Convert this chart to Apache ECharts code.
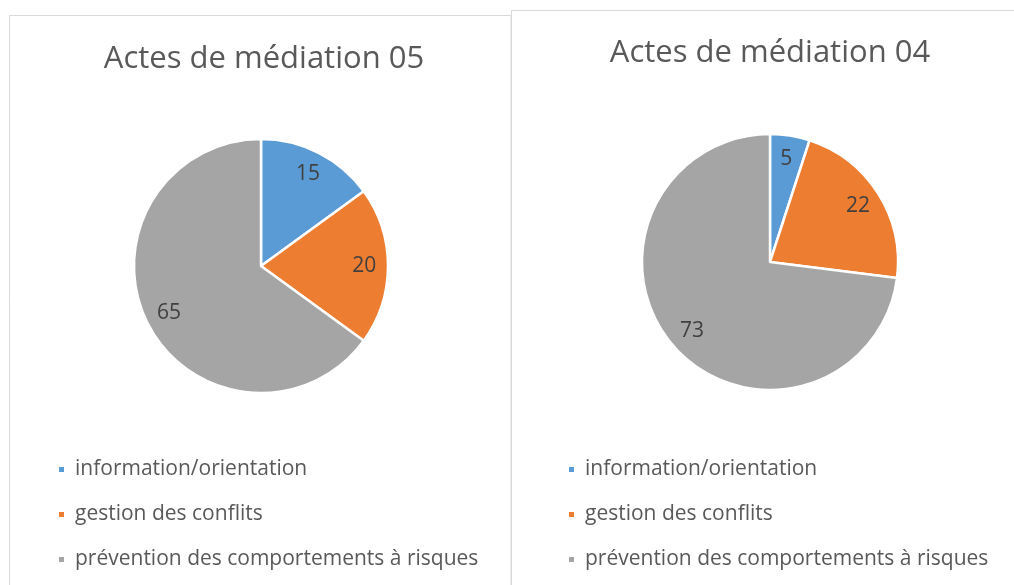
<!DOCTYPE html>
<html>
<head>
<meta charset="utf-8">
<script src="https://cdn.jsdelivr.net/npm/echarts@6/dist/echarts.min.js"></script>
<style>
  html, body { margin: 0; padding: 0; background: #fff; }
  #chart { width: 1014px; height: 585px; }
</style>
</head>
<body>
<div id="chart"></div>
<script>
// Categories shared by both pies
const categories = ['information/orientation', 'gestion des conflits', 'prévention des comportements à risques'];
// Values per year
const values05 = [15, 20, 65];
const values04 = [5, 22, 73];
const titles = ['Actes de médiation 05', 'Actes de médiation 04'];
const colors = ['#5B9BD5', '#ED7D31', '#A5A5A5'];

const FONT = '"Open Sans", "Noto Sans", sans-serif';

function toData(vals) {
  return categories.map((c, i) => ({ name: c, value: vals[i] }));
}

// One solid pie plus a transparent ring that carries the value labels
function pieSeries(vals, center, r) {
  return [
    {
      type: 'pie',
      center: center,
      radius: [0, r],
      startAngle: 90,
      clockwise: true,
      silent: true,
      label: { show: false },
      labelLine: { show: false },
      itemStyle: { borderColor: '#ffffff', borderWidth: 2.5 },
      data: toData(vals)
    },
    {
      type: 'pie',
      center: center,
      radius: [r * 0.58, r],
      startAngle: 90,
      clockwise: true,
      silent: true,
      itemStyle: { color: 'rgba(0,0,0,0)', borderWidth: 0 },
      label: {
        show: true,
        position: 'inside',
        formatter: '{c}',
        color: '#404040',
        fontFamily: FONT,
        fontSize: 21
      },
      labelLine: { show: false },
      data: toData(vals)
    }
  ];
}

function legend(left) {
  return {
    orient: 'vertical',
    left: left,
    top: 458,
    padding: 0,
    icon: 'rect',
    itemWidth: 7,
    itemHeight: 7,
    itemGap: 22,
    selectedMode: false,
    data: categories,
    textStyle: { color: '#595959', fontFamily: FONT, fontSize: 21, lineHeight: 23, padding: [0, 0, 0, 5] }
  };
}

const chart = echarts.init(document.getElementById('chart'), null, { renderer: 'canvas' });
chart.setOption({
  animation: false,
  color: colors,
  title: [
    { text: titles[0], left: 264, top: 44, textAlign: 'center', padding: 0,
      textStyle: { color: '#595959', fontFamily: FONT, fontSize: 31, fontWeight: 'normal' } },
    { text: titles[1], left: 770, top: 38, textAlign: 'center', padding: 0,
      textStyle: { color: '#595959', fontFamily: FONT, fontSize: 31, fontWeight: 'normal' } }
  ],
  legend: [legend(57), legend(567)],
  graphic: [
    { type: 'rect', shape: { x: 9.5, y: 15.5, width: 501.5, height: 620 },
      style: { fill: 'none', stroke: '#d9d9d9', lineWidth: 1 }, silent: true, z: -1 },
    { type: 'rect', shape: { x: 511.5, y: 10.5, width: 620, height: 620 },
      style: { fill: 'none', stroke: '#d9d9d9', lineWidth: 1 }, silent: true, z: -1 }
  ],
  series: [
    ...pieSeries(values05, [261, 266], 127),
    ...pieSeries(values04, [770, 262], 128)
  ]
});
</script>
</body>
</html>
